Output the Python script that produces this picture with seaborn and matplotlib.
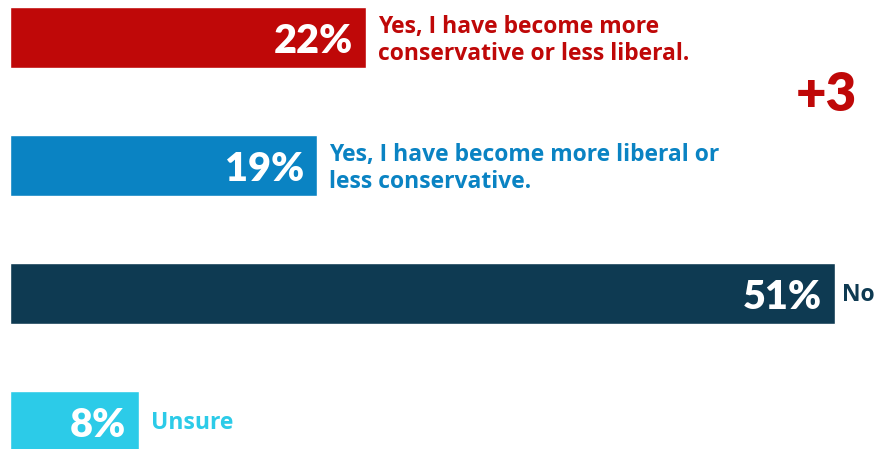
import matplotlib
matplotlib.use("Agg")
import matplotlib.pyplot as plt
import seaborn as sns
import pandas as pd

# Survey responses
categories = [
    "Yes, I have become more\nconservative or less liberal.",
    "Yes, I have become more liberal or\nless conservative.",
    "No",
    "Unsure",
]
values = [22, 19, 51, 8]
colors = ["#BF0808", "#0A83C3", "#0E3A52", "#2CCBE8"]
net_label = "+3"

sns.set_theme(style="white")
plt.rcParams["font.family"] = ["Open Sans", "DejaVu Sans"]
num_font = ["Lato", "DejaVu Sans"]

df = pd.DataFrame({"category": categories, "value": values})

fig = plt.figure(figsize=(8.85, 4.49), dpi=100)
ax = fig.add_axes([0, 0, 1, 1])

sns.barplot(data=df, x="value", y="category", hue="category",
            palette=colors, orient="h", width=0.47, legend=False,
            saturation=1, ax=ax)

px = 825 / 51  # pixels per percentage point
ax.set_xlim(-10 / px, 875 / px)
ax.set_ylim((449 - 37.5) / 128, -37.5 / 128)
ax.axis("off")

for patch, val, lab, col in zip(ax.patches, values, categories, colors):
    yc = patch.get_y() + patch.get_height() / 2
    end = patch.get_width()
    ax.text(end - 13 / px, yc, f"{val}%", color="white", fontsize=28.5,
            fontweight="heavy", family=num_font, ha="right",
            va="center_baseline")
    two_line = "\n" in lab
    ax.text(end + 12 / px if val != 51 else end + 7 / px,
            yc + (3 if two_line else 1) / 128, lab,
            color=col, fontsize=16.5, fontweight="bold", ha="left",
            va="center", linespacing=1.2)

ax.text((826 - 10) / px, (95 - 37.5) / 128, net_label, color=colors[0],
        fontsize=38, fontweight="heavy", family=num_font,
        ha="center", va="center")

fig.savefig("out.png", dpi=100)
